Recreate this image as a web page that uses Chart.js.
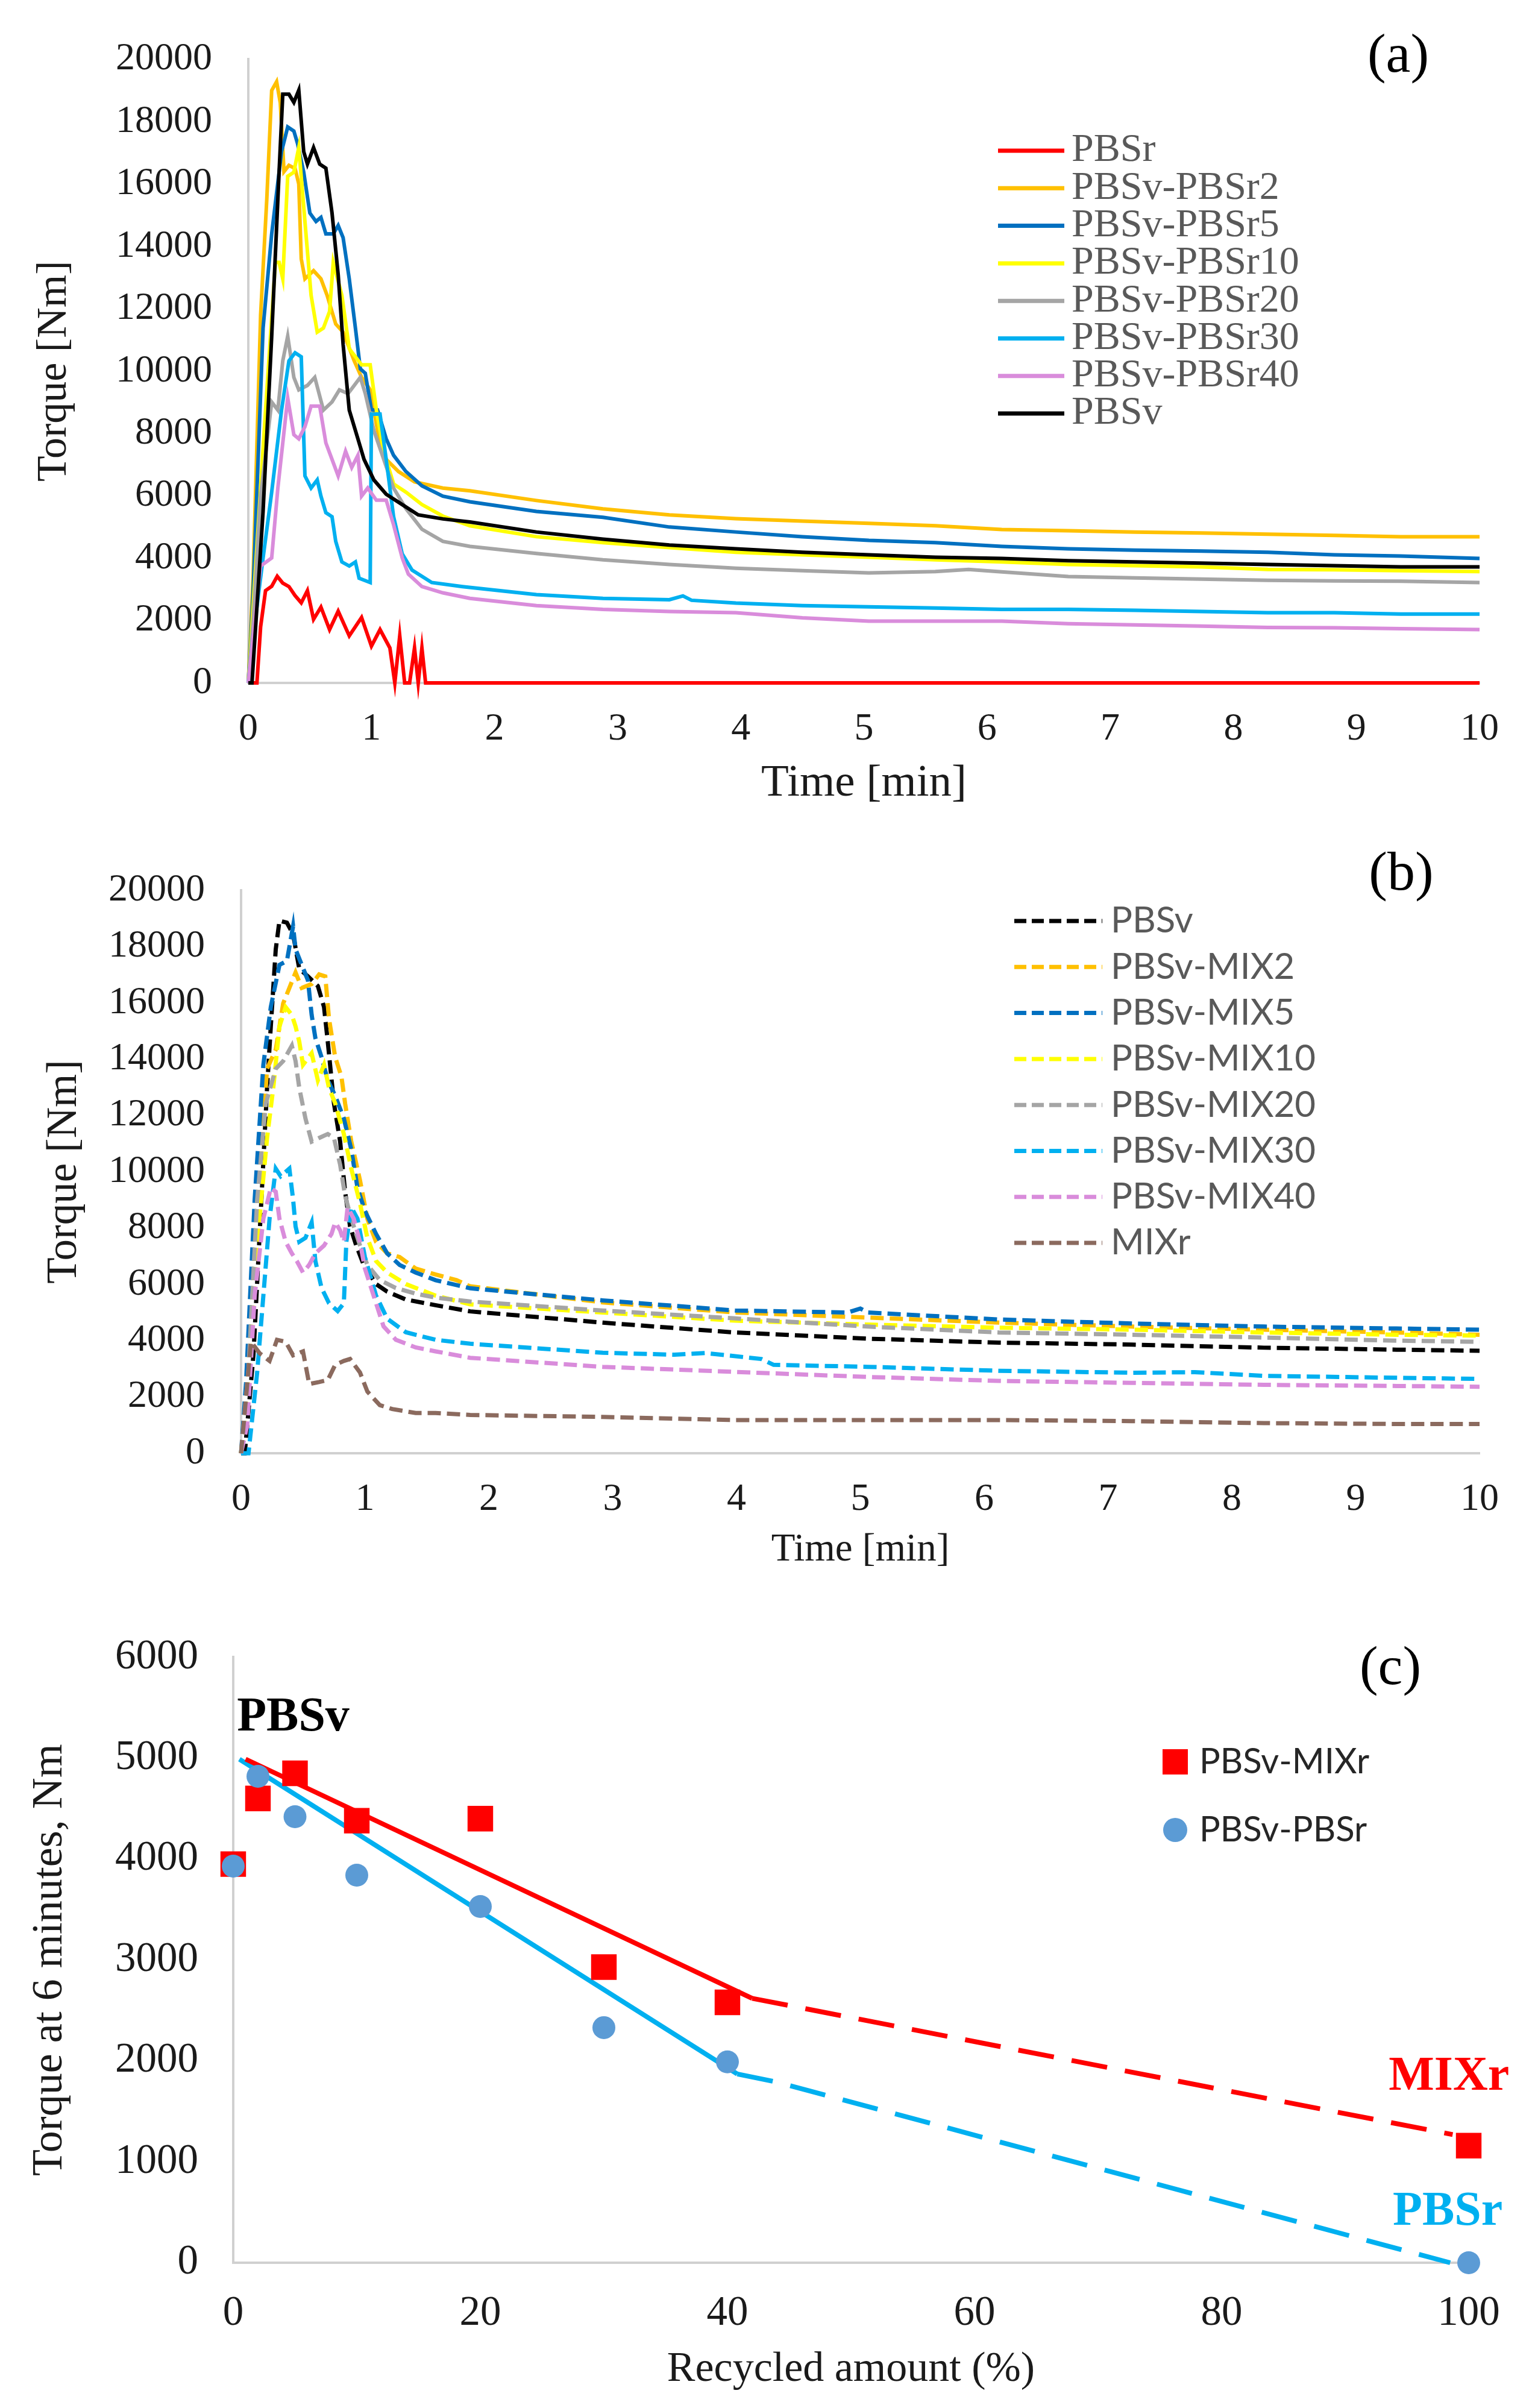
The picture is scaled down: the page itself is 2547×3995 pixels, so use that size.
<!DOCTYPE html>
<html>
<head>
<meta charset="utf-8">
<script src="https://cdn.jsdelivr.net/npm/chart.js@4.4.0/dist/chart.umd.min.js"></script>
<style>
  body { margin: 0; background: #fff; width: 2547px; height: 3995px; position: relative; overflow: hidden; }
  canvas { position: absolute; left: 0; }
</style>
</head>
<body>
<canvas id="chartA" width="2547" height="1360" style="top:0px"></canvas>
<canvas id="chartB" width="2547" height="1290" style="top:1360px"></canvas>
<canvas id="chartC" width="2547" height="1345" style="top:2650px"></canvas>
<script>
// ---------- panel (a): torque vs time, PBSv / PBSr blends ----------
const labelsA = ["PBSr", "PBSv-PBSr2", "PBSv-PBSr5", "PBSv-PBSr10", "PBSv-PBSr20", "PBSv-PBSr30", "PBSv-PBSr40", "PBSv"];
const colorsA = ["#FF0000", "#FFC000", "#0070C0", "#FFFF00", "#A5A5A5", "#00B0F0", "#D98CDB", "#000000"];

const pbsr = [[0,0],[0.07,0],[0.1,1800],[0.14,2960],[0.19,3100],[0.235,3420],[0.28,3200],[0.33,3090],[0.38,2800],[0.43,2570],[0.48,2960],[0.53,2040],[0.59,2430],[0.66,1710],[0.73,2300],[0.82,1510],[0.92,2100],[1.0,1180],[1.07,1710],[1.15,1120],[1.19,0],[1.23,1510],[1.27,0],[1.31,0],[1.35,1120],[1.38,0],[1.41,1120],[1.44,0],[10,0]];
const pbsr2 = [[0,0],[0.04,3500],[0.1,11800],[0.15,15500],[0.19,19000],[0.23,19280],[0.26,18600],[0.29,16400],[0.33,16600],[0.38,16500],[0.41,16000],[0.43,13600],[0.46,12960],[0.53,13220],[0.59,12960],[0.64,12430],[0.71,11510],[0.77,11250],[0.86,10330],[0.92,9800],[0.99,9400],[1.05,8090],[1.12,7170],[1.22,6780],[1.35,6450],[1.58,6250],[1.8,6160],[2.34,5850],[2.88,5580],[3.42,5390],[3.96,5270],[4.5,5190],[5.04,5120],[5.58,5040],[6.12,4920],[6.66,4880],[7.2,4840],[7.74,4810],[8.28,4770],[8.82,4730],[9.36,4690],[10,4690]];
const pbsr5 = [[0,0],[0.04,3000],[0.12,11380],[0.19,14400],[0.27,17040],[0.32,17830],[0.37,17700],[0.4,17300],[0.45,16380],[0.5,15070],[0.55,14800],[0.59,14930],[0.63,14400],[0.69,14400],[0.73,14670],[0.77,14280],[0.82,12960],[0.87,11380],[0.91,10070],[0.95,9930],[1.0,8750],[1.05,8750],[1.12,7830],[1.18,7300],[1.28,6780],[1.41,6320],[1.58,5990],[1.8,5810],[2.34,5500],[2.88,5310],[3.42,5000],[3.96,4840],[4.5,4690],[5.04,4570],[5.58,4500],[6.12,4380],[6.66,4300],[7.2,4260],[7.74,4230],[8.28,4190],[8.82,4110],[9.36,4070],[10,3990]];
const pbsr10 = [[0,0],[0.04,2500],[0.14,8750],[0.22,13490],[0.25,13490],[0.28,12960],[0.32,16250],[0.37,16380],[0.41,17170],[0.46,14800],[0.51,12430],[0.56,11250],[0.61,11380],[0.66,11910],[0.69,13490],[0.76,12430],[0.82,10720],[0.92,10200],[0.99,10200],[1.04,8750],[1.1,7430],[1.18,6380],[1.28,6120],[1.41,5720],[1.58,5350],[1.8,5040],[2.34,4690],[2.88,4500],[3.42,4340],[3.96,4190],[4.5,4110],[5.04,4030],[5.58,3950],[6.12,3880],[6.66,3800],[7.2,3760],[7.74,3720],[8.28,3640],[8.82,3630],[9.36,3600],[10,3570]];
const pbsr20 = [[0,0],[0.04,2000],[0.1,6000],[0.19,9010],[0.24,8750],[0.28,10330],[0.32,11120],[0.37,9800],[0.41,9400],[0.48,9540],[0.54,9800],[0.61,8750],[0.68,9010],[0.74,9400],[0.81,9280],[0.91,9800],[0.95,9280],[1.02,8090],[1.1,7170],[1.18,6250],[1.28,5590],[1.41,4930],[1.58,4540],[1.8,4380],[2.34,4150],[2.88,3950],[3.42,3800],[3.96,3680],[4.5,3600],[5.04,3530],[5.58,3570],[5.85,3640],[6.12,3560],[6.66,3410],[7.2,3370],[7.74,3330],[8.28,3290],[8.82,3270],[9.36,3260],[10,3220]];
const pbsr30 = [[0,0],[0.04,1500],[0.12,4010],[0.19,6120],[0.27,8750],[0.33,10330],[0.38,10590],[0.43,10460],[0.46,6640],[0.51,6250],[0.56,6510],[0.59,5990],[0.63,5460],[0.68,5330],[0.71,4540],[0.76,3880],[0.82,3750],[0.87,3880],[0.9,3360],[0.99,3220],[1.0,8620],[1.07,8620],[1.12,7170],[1.18,5330],[1.25,4140],[1.33,3620],[1.49,3220],[1.74,3090],[2.34,2830],[2.88,2710],[3.42,2670],[3.53,2790],[3.6,2650],[3.96,2560],[4.5,2480],[5.04,2440],[5.58,2400],[6.12,2360],[6.66,2360],[7.2,2330],[7.74,2290],[8.28,2250],[8.82,2250],[9.36,2210],[10,2210]];
const pbsr40 = [[0,0],[0.04,1500],[0.1,3750],[0.19,4010],[0.24,6250],[0.32,9140],[0.37,7960],[0.41,7830],[0.46,8220],[0.51,8880],[0.58,8880],[0.63,7700],[0.68,7170],[0.73,6640],[0.79,7430],[0.84,6910],[0.89,7300],[0.92,5990],[0.97,6250],[1.04,5860],[1.12,5860],[1.18,5070],[1.25,4010],[1.3,3490],[1.41,3090],[1.58,2890],[1.8,2710],[2.34,2480],[2.88,2360],[3.42,2290],[3.96,2250],[4.5,2090],[5.04,1980],[5.58,1980],[6.12,1980],[6.66,1900],[7.2,1860],[7.74,1820],[8.28,1780],[8.82,1770],[9.36,1740],[10,1710]];
const pbsv = [[0,0],[0.03,0],[0.12,5500],[0.19,11120],[0.25,16380],[0.28,18880],[0.33,18880],[0.37,18620],[0.41,19010],[0.45,17040],[0.48,16640],[0.53,17170],[0.58,16640],[0.63,16510],[0.68,15070],[0.73,13090],[0.77,10860],[0.82,8750],[0.89,7830],[0.94,7170],[1.02,6510],[1.12,6050],[1.25,5720],[1.38,5390],[1.58,5260],[1.8,5160],[2.34,4840],[2.88,4610],[3.42,4420],[3.96,4300],[4.5,4190],[5.04,4110],[5.58,4030],[6.12,3990],[6.66,3920],[7.2,3880],[7.74,3840],[8.28,3800],[8.82,3760],[9.36,3720],[10,3720]];
const seriesA = [pbsr, pbsr2, pbsr5, pbsr10, pbsr20, pbsr30, pbsr40, pbsv];

// ---------- panel (b): torque vs time, PBSv / MIXr blends ----------
const labelsB = ["PBSv", "PBSv-MIX2", "PBSv-MIX5", "PBSv-MIX10", "PBSv-MIX20", "PBSv-MIX30", "PBSv-MIX40", "MIXr"];
const colorsB = ["#000000", "#FFC000", "#0070C0", "#FFFF00", "#A5A5A5", "#00B0F0", "#D98CDB", "#8B6A5E"];

const pbsvB = [[0,0],[0.03,0],[0.1,3500],[0.17,9500],[0.21,12980],[0.24,15160],[0.28,17900],[0.31,18920],[0.37,18850],[0.42,18440],[0.47,17210],[0.54,16940],[0.62,16600],[0.67,15850],[0.7,14620],[0.75,12430],[0.8,11070],[0.84,9290],[0.88,8060],[0.93,7380],[0.99,6690],[1.09,6010],[1.18,5740],[1.33,5460],[1.57,5260],[1.85,5040],[2.92,4640],[3.99,4290],[5.06,4070],[6.12,3930],[7.19,3860],[8.26,3750],[9.33,3680],[10,3640]];
const mix2 = [[0,0],[0.05,2000],[0.12,8000],[0.21,13660],[0.28,14340],[0.34,15980],[0.39,16530],[0.44,17080],[0.49,16530],[0.57,16670],[0.63,17010],[0.68,16940],[0.71,15440],[0.76,14070],[0.81,13390],[0.84,12430],[0.89,11070],[0.96,9700],[1.02,8330],[1.09,7510],[1.18,7100],[1.28,6970],[1.41,6560],[1.57,6350],[1.74,6150],[1.85,5930],[2.92,5360],[3.99,5000],[5.06,4820],[6.12,4640],[7.19,4500],[8.26,4390],[9.33,4290],[10,4210]];
const mix5 = [[0,0],[0.04,2500],[0.11,9020],[0.18,13800],[0.24,15850],[0.31,17350],[0.37,17490],[0.42,18720],[0.44,17900],[0.49,17350],[0.54,16800],[0.57,15570],[0.6,14750],[0.65,14070],[0.7,13250],[0.76,12700],[0.83,11890],[0.89,10790],[0.94,9430],[1.0,8610],[1.09,7790],[1.18,7100],[1.28,6690],[1.41,6420],[1.57,6150],[1.85,5860],[2.92,5430],[3.99,5070],[4.9,5000],[5.0,5140],[5.06,5000],[6.12,4750],[7.19,4610],[8.26,4500],[9.33,4430],[10,4390]];
const mix10 = [[0,0],[0.05,2000],[0.12,7000],[0.21,11200],[0.26,12980],[0.31,15160],[0.36,15850],[0.41,15570],[0.44,15160],[0.47,14620],[0.5,13800],[0.57,14210],[0.62,13250],[0.67,13800],[0.71,12980],[0.76,12430],[0.83,11340],[0.89,10110],[0.96,8880],[1.02,7650],[1.09,6830],[1.18,6420],[1.33,6010],[1.57,5600],[1.85,5290],[2.92,5000],[3.99,4710],[5.06,4570],[6.12,4460],[7.19,4390],[8.26,4290],[9.33,4210],[10,4180]];
const mix20 = [[0,0],[0.06,3000],[0.13,9000],[0.2,12430],[0.28,13660],[0.34,13930],[0.41,14480],[0.44,13930],[0.47,12980],[0.52,11890],[0.57,11070],[0.63,11200],[0.7,11340],[0.75,11200],[0.8,10250],[0.84,9150],[0.89,8330],[0.96,7380],[1.02,6690],[1.12,6150],[1.25,5870],[1.41,5670],[1.57,5530],[1.85,5390],[2.92,5070],[3.99,4790],[5.06,4500],[6.12,4290],[7.19,4210],[8.26,4110],[9.33,4000],[10,3960]];
const mix30 = [[0,0],[0.06,0],[0.13,2870],[0.18,5600],[0.23,8330],[0.28,10110],[0.32,9840],[0.39,10110],[0.42,9020],[0.44,8060],[0.47,7510],[0.52,7650],[0.57,8200],[0.6,6830],[0.65,5870],[0.71,5330],[0.78,5050],[0.83,5330],[0.85,7510],[0.89,8740],[0.94,8330],[1.0,6970],[1.09,5600],[1.18,4780],[1.33,4300],[1.57,4030],[1.85,3890],[2.92,3570],[3.5,3500],[3.75,3560],[4.2,3350],[4.3,3140],[5.06,3070],[6.12,2930],[7.19,2860],[7.7,2880],[8.26,2750],[9.33,2680],[10,2640]];
const mix40 = [[0,0],[0.05,1000],[0.11,5600],[0.18,8330],[0.24,9430],[0.28,9290],[0.31,8330],[0.36,7510],[0.41,7100],[0.45,6830],[0.5,6420],[0.55,6690],[0.6,7100],[0.67,7380],[0.73,7790],[0.76,8200],[0.8,7920],[0.83,7510],[0.86,8740],[0.91,8330],[0.96,7510],[1.0,6560],[1.07,5600],[1.15,4510],[1.25,4030],[1.41,3760],[1.57,3620],[1.85,3390],[2.92,3070],[3.99,2890],[5.06,2710],[6.12,2570],[7.19,2500],[8.26,2430],[9.33,2390],[10,2360]];
const mixr = [[0,0],[0.08,3960],[0.15,3550],[0.23,3280],[0.29,4030],[0.36,3960],[0.42,3480],[0.5,3620],[0.55,2460],[0.63,2530],[0.7,2600],[0.76,3140],[0.83,3280],[0.88,3350],[0.96,2870],[1.02,2190],[1.12,1710],[1.22,1570],[1.41,1430],[1.57,1430],[1.85,1360],[2.92,1290],[3.99,1180],[5.06,1180],[6.12,1180],[7.19,1140],[8.26,1070],[9.33,1040],[10,1040]];
const seriesB = [pbsvB, mix2, mix5, mix10, mix20, mix30, mix40, mixr];

// ---------- panel (c): torque at 6 minutes vs recycled amount ----------
const recycled = [0, 2, 5, 10, 20, 30, 40, 100];
const torqueMix = [3950, 4600, 4850, 4380, 4400, 2930, 2580, 1160];
const torquePbsr = [3930, 4820, 4420, 3840, 3530, 2330, 1990, 0];
const trendMixSolid = [[1, 4990], [42, 2620]];
const trendMixDash = [[42, 2620], [98.7, 1270]];
const trendPbsrSolid = [[0.5, 4990], [40.8, 1870]];
const trendPbsrDash = [[40.8, 1870], [44, 1790], [98.5, 0]];

const SERIF = '"Liberation Serif", "Times New Roman", serif';
const SANS = 'Lato, "Open Sans", sans-serif';
const INK = "#1a1a1a";
const AXIS = "#d0d0d0";

Chart.defaults.font.family = SERIF;
Chart.defaults.color = INK;

const toXY = pts => pts.map(p => ({ x: p[0], y: p[1] }));

// draws legend rows, panel letter and free labels
const overlay = {
  id: "overlay",
  afterDraw(chart, args, o) {
    const ctx = chart.ctx;
    ctx.save();
    if (o.legend) {
      const L = o.legend;
      chart.data.datasets.forEach(ds => {
        if (ds.legendRow === undefined) return;
        const y = L.y0 + ds.legendRow * L.dy;
        if (L.marker) {
          ctx.fillStyle = ds.backgroundColor;
          if (ds.pointStyle === "rect") {
            ctx.fillRect(L.mx - 21, y - 21, 42, 42);
          } else {
            ctx.beginPath(); ctx.arc(L.mx, y, 20, 0, Math.PI * 2); ctx.fill();
          }
        } else {
          ctx.strokeStyle = ds.borderColor;
          ctx.lineWidth = L.lineWidth;
          ctx.setLineDash(L.dash || []);
          ctx.beginPath(); ctx.moveTo(L.x0, y); ctx.lineTo(L.x1, y); ctx.stroke();
          ctx.setLineDash([]);
        }
        ctx.fillStyle = L.color;
        ctx.font = L.font;
        ctx.textAlign = "left";
        ctx.textBaseline = "middle";
        ctx.fillText(ds.label, L.tx, y);
      });
    }
    (o.texts || []).forEach(t => {
      let x = t.x, y = t.y;
      if (t.data) {
        x = chart.scales.x.getPixelForValue(t.data[0]);
        y = chart.scales.y.getPixelForValue(t.data[1]);
      }
      ctx.fillStyle = t.color || "#000";
      ctx.font = t.font;
      ctx.textAlign = t.align || "center";
      ctx.textBaseline = "middle";
      ctx.fillText(t.text, x, y);
    });
    ctx.restore();
  }
};

function axes(g) {
  return {
    x: {
      type: "linear", min: g.xmin, max: g.xmax,
      ticks: { stepSize: g.xstep, font: { family: SERIF, size: g.tickSize }, color: INK, padding: g.xPad, callback: v => String(v) },
      grid: { display: false, drawTicks: false },
      border: { display: true, color: AXIS, width: 4 },
      title: { display: true, text: g.xTitle, font: { family: SERIF, size: g.xTitleSize }, color: INK, padding: { top: 0, bottom: g.xTitlePad } },
      afterFit: s => { s.height = g.h - g.bottom; }
    },
    y: {
      type: "linear", min: g.ymin, max: g.ymax,
      ticks: { stepSize: g.ystep, font: { family: SERIF, size: g.tickSize }, color: INK, padding: g.yPad, callback: v => String(v) },
      grid: { display: false, drawTicks: false },
      border: { display: true, color: AXIS, width: 4 },
      title: { display: true, text: g.yTitle, font: { family: SERIF, size: g.yTitleSize }, color: INK, padding: { top: g.yTitlePad, bottom: 0 } },
      afterFit: s => { s.width = g.left; }
    }
  };
}

function baseOptions(g, overlayOpts) {
  return {
    responsive: false,
    animation: false,
    devicePixelRatio: 1,
    layout: { padding: { left: 0, top: g.top, right: 2547 - g.right, bottom: 0 } },
    plugins: { legend: { display: false }, tooltip: { enabled: false }, overlay: overlayOpts },
    scales: axes(g)
  };
}

function lineSets(series, labels, colors, width, dash) {
  return series.map((s, i) => ({
    label: labels[i],
    data: toXY(s),
    borderColor: colors[i],
    backgroundColor: colors[i],
    borderWidth: width,
    borderDash: dash || [],
    pointRadius: 0,
    tension: 0,
    clip: false,
    order: -i,
    legendRow: i
  }));
}

// panel (a)
const geomA = { h: 1360, top: 47, bottom: 1133, left: 412, right: 2455, xmin: 0, xmax: 10, xstep: 1, ymin: 0, ymax: 20000, ystep: 2000,
  tickSize: 64, xPad: 39, yPad: 60, xTitle: "Time [min]", xTitleSize: 75, xTitlePad: 15, yTitle: "Torque [Nm]", yTitleSize: 70, yTitlePad: 49 };
new Chart(document.getElementById("chartA"), {
  type: "line",
  data: { datasets: lineSets(seriesA, labelsA, colorsA, 6, null) },
  options: baseOptions(geomA, {
    legend: { x0: 1656, x1: 1766, tx: 1778, y0: 250, dy: 62.3, lineWidth: 7, font: "66px " + SERIF, color: "#595959" },
    texts: [{ text: "(a)", x: 2320, y: 95, font: "92px " + SERIF }]
  }),
  plugins: [overlay]
});

// panel (b)
const geomB = { h: 1290, top: 117, bottom: 1051, left: 400, right: 2455, xmin: 0, xmax: 10, xstep: 1, ymin: 0, ymax: 20000, ystep: 2000,
  tickSize: 64, xPad: 39, yPad: 60, xTitle: "Time [min]", xTitleSize: 65, xTitlePad: 39, yTitle: "Torque [Nm]", yTitleSize: 71, yTitlePad: 65 };
new Chart(document.getElementById("chartB"), {
  type: "line",
  data: { datasets: lineSets(seriesB, labelsB, colorsB, 7, [22, 10]) },
  options: baseOptions(geomB, {
    legend: { x0: 1683, x1: 1829, tx: 1843, y0: 168, dy: 76.3, lineWidth: 7, dash: [20, 9], font: "60px " + SANS, color: "#595959" },
    texts: [{ text: "(b)", x: 2325, y: 92, font: "92px " + SERIF }]
  }),
  plugins: [overlay]
});

// panel (c)
const geomC = { h: 1345, top: 70, bottom: 1104, left: 387, right: 2437, xmin: 0, xmax: 100, xstep: 20, ymin: 0, ymax: 6000, ystep: 1000,
  tickSize: 69, xPad: 43, yPad: 58, xTitle: "Recycled amount (%)", xTitleSize: 70, xTitlePad: 21, yTitle: "Torque at 6 minutes, Nm", yTitleSize: 72, yTitlePad: 40 };
const trend = (pts, color, dash) => ({
  data: toXY(pts), showLine: true, borderColor: color, borderWidth: 8, borderDash: dash, pointRadius: 0, tension: 0, clip: false, order: 5
});
new Chart(document.getElementById("chartC"), {
  type: "scatter",
  data: {
    datasets: [
      { label: "PBSv-MIXr", data: recycled.map((x, i) => ({ x: x, y: torqueMix[i] })), pointStyle: "rect", pointRadius: 30,
        backgroundColor: "#FF0000", borderWidth: 0, clip: false, order: 1, legendRow: 0 },
      { label: "PBSv-PBSr", data: recycled.map((x, i) => ({ x: x, y: torquePbsr[i] })), pointStyle: "circle", pointRadius: 19,
        backgroundColor: "#5B9BD5", borderWidth: 0, clip: false, order: 0, legendRow: 1 },
      trend(trendMixSolid, "#FF0000", []),
      trend(trendMixDash, "#FF0000", [60, 30]),
      trend(trendPbsrSolid, "#00B0F0", []),
      trend(trendPbsrDash, "#00B0F0", [60, 30])
    ]
  },
  options: baseOptions(geomC, {
    legend: { marker: true, mx: 1950, tx: 1990, y0: 273, dy: 113, font: "58px " + SANS, color: "#262626" },
    texts: [
      { text: "(c)", x: 2307, y: 120, font: "92px " + SERIF },
      { text: "PBSv", data: [0.3, 5400], align: "left", font: "bold 80px " + SERIF, color: "#000" },
      { text: "MIXr", data: [98.4, 1840], font: "bold 80px " + SERIF, color: "#FF0000" },
      { text: "PBSr", data: [98.3, 500], font: "bold 80px " + SERIF, color: "#00B0F0" }
    ]
  }),
  plugins: [overlay]
});
</script>
</body>
</html>
